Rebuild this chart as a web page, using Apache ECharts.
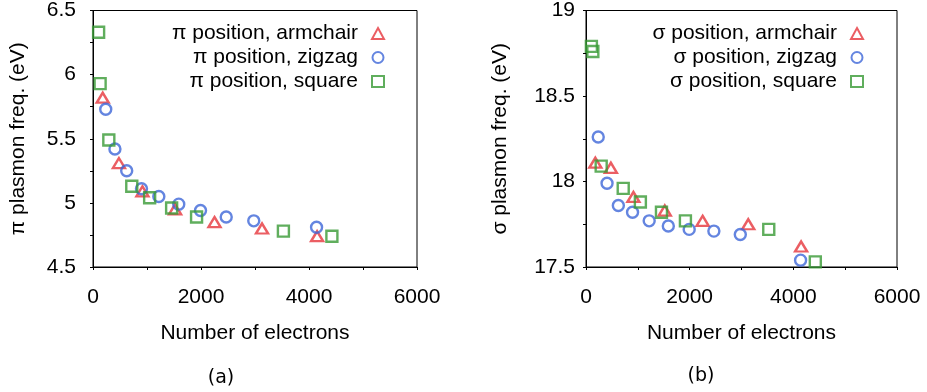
<!DOCTYPE html>
<html>
<head>
<meta charset="utf-8">
<script src="https://cdn.jsdelivr.net/npm/echarts@6/dist/echarts.min.js"></script>
<style>
  html, body { margin: 0; padding: 0; background: #fff; }
  #chart { width: 927px; height: 392px; }
</style>
</head>
<body>
<div id="chart"></div>
<script>
// electron counts per flake family
var armX = [180, 480, 915, 1520, 2250, 3130, 4150];
var zigX = [236, 406, 624, 898, 1219, 1588, 1991, 2467, 2977, 4140];
var sqX = [104, 132, 293, 718, 1049, 1456, 1918, 3526, 4424];

// pi plasmon position (eV)
var piArm = [5.82, 5.31, 5.09, 4.95, 4.85, 4.80, 4.74];
var piZig = [5.73, 5.42, 5.25, 5.11, 5.05, 4.99, 4.94, 4.89, 4.86, 4.81];
var piSq = [6.33, 5.93, 5.49, 5.13, 5.04, 4.96, 4.89, 4.78, 4.74];

// sigma plasmon position (eV)
var sigArm = [18.11, 18.08, 17.91, 17.83, 17.77, 17.75, 17.62];
var sigZig = [18.26, 17.99, 17.86, 17.82, 17.77, 17.74, 17.72, 17.71, 17.69, 17.54];
var sigSq = [18.79, 18.76, 18.09, 17.96, 17.88, 17.82, 17.77, 17.72, 17.53];

var RED = '#e6363c', BLUE = '#3d66d8', GREEN = '#389a34';
var FONT = '"Liberation Sans", Arial, sans-serif';
var FS = 21;

function pairs(xs, ys) {
  var out = [];
  for (var i = 0; i < xs.length; i++) out.push([xs[i], ys[i]]);
  return out;
}

function xAxisCfg(idx) {
  return {
    type: 'value', gridIndex: idx, min: 0, max: 6000, interval: 2000,
    name: 'Number of electrons', nameLocation: 'middle', nameGap: 56,
    nameTextStyle: { fontFamily: FONT, fontSize: FS, color: '#000' },
    axisLine: { show: true, lineStyle: { color: '#000', width: 1 } },
    axisTick: { show: true, inside: false, length: 3, lineStyle: { color: '#000' } },
    minorTick: { show: true, splitNumber: 2, length: 3, lineStyle: { color: '#000' } },
    axisLabel: { fontFamily: FONT, fontSize: FS, color: '#000', margin: 20,
      formatter: function (v) { return String(v); } },
    splitLine: { show: false }
  };
}

function yAxisCfg(idx, min, max, name, gap, margin) {
  return {
    type: 'value', gridIndex: idx, min: min, max: max, interval: 0.5,
    name: name, nameLocation: 'middle', nameGap: gap,
    nameTextStyle: { fontFamily: FONT, fontSize: FS, color: '#000' },
    axisLine: { show: true, lineStyle: { color: '#000', width: 1 } },
    axisTick: { show: true, inside: false, length: 3, lineStyle: { color: '#000' } },
    minorTick: { show: true, splitNumber: 2, length: 3, lineStyle: { color: '#000' } },
    axisLabel: { fontFamily: FONT, fontSize: FS, color: '#000', margin: margin,
      formatter: function (v) { return String(v); } },
    splitLine: { show: false }
  };
}

function scatter(name, idx, data, symbol, size, color) {
  return {
    name: name, type: 'scatter', xAxisIndex: idx, yAxisIndex: idx,
    data: data, symbol: symbol, symbolSize: size, clip: false,
    itemStyle: { color: 'transparent', borderColor: color, borderWidth: 2.4 },
    emphasis: { disabled: true }
  };
}

function legendCfg(names, right) {
  return {
    data: names, orient: 'vertical', align: 'right', right: right, top: 18,
    itemWidth: 12, itemHeight: 11, itemGap: 3, selectedMode: false,
    textStyle: { fontFamily: FONT, fontSize: FS, color: '#000', padding: [0, 9, 0, 0] }
  };
}

var chart = echarts.init(document.getElementById('chart'));
var option = {
  animation: false,
  backgroundColor: '#fff',
  grid: [
    { left: 93, top: 10, width: 324, height: 257, show: true, borderColor: '#000', borderWidth: 1 },
    { left: 586, top: 10, width: 311, height: 257, show: true, borderColor: '#000', borderWidth: 1 }
  ],
  xAxis: [xAxisCfg(0), xAxisCfg(1)],
  yAxis: [
    yAxisCfg(0, 4.5, 6.5, 'π plasmon freq. (eV)', 64, 17),
    yAxisCfg(1, 17.5, 19, 'σ plasmon freq. (eV)', 75, 11)
  ],
  legend: [
    legendCfg(['π position, armchair', 'π position, zigzag', 'π position, square'], 537),
    legendCfg(['σ position, armchair', 'σ position, zigzag', 'σ position, square'], 58)
  ],
  graphic: [
    { type: 'text', x: 221, y: 378, style: { text: '(a)', fontFamily: '"DejaVu Sans", sans-serif',
      fontSize: 19, fill: '#000', textAlign: 'center', textVerticalAlign: 'middle' } },
    { type: 'text', x: 701, y: 376, style: { text: '(b)', fontFamily: '"DejaVu Sans", sans-serif',
      fontSize: 19, fill: '#000', textAlign: 'center', textVerticalAlign: 'middle' } }
  ],
  series: [
    scatter('π position, armchair', 0, pairs(armX, piArm), 'triangle', [12, 10], RED),
    scatter('π position, zigzag', 0, pairs(zigX, piZig), 'circle', 11, BLUE),
    scatter('π position, square', 0, pairs(sqX, piSq), 'rect', 11, GREEN),
    scatter('σ position, armchair', 1, pairs(armX, sigArm), 'triangle', [12, 10], RED),
    scatter('σ position, zigzag', 1, pairs(zigX, sigZig), 'circle', 11, BLUE),
    scatter('σ position, square', 1, pairs(sqX, sigSq), 'rect', 11, GREEN)
  ]
};
chart.setOption(option);
</script>
</body>
</html>
